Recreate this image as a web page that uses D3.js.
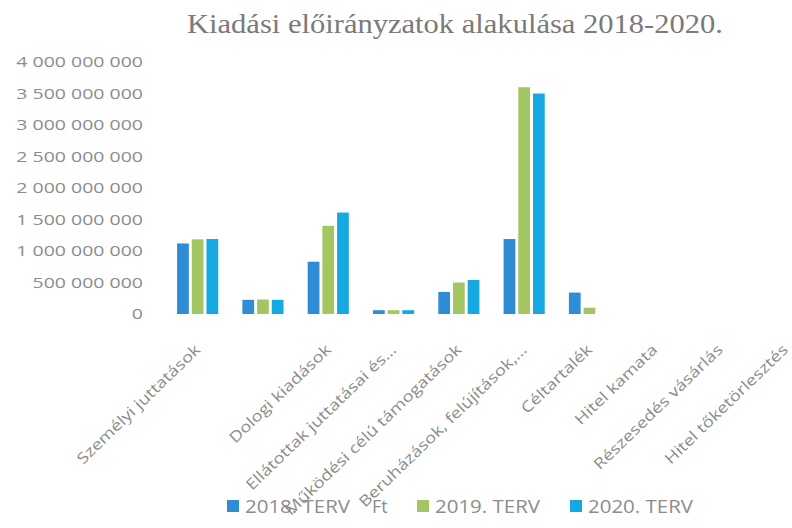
<!DOCTYPE html>
<html>
<head>
<meta charset="utf-8">
<script src="https://cdn.jsdelivr.net/npm/d3@7"></script>
<style>
  html, body { margin: 0; padding: 0; background: #fff; }
  svg { display: block; }
</style>
</head>
<body>
<svg id="chart" width="792" height="528"></svg>
<script>
const title = "Kiadási előirányzatok alakulása 2018-2020.";
const categories = [
  "Személyi juttatások",
  "Munkaadókat terhelő járulékok",
  "Dologi kiadások",
  "Ellátottak juttatásai és…",
  "Működési célú támogatások",
  "Beruházások, felújítások,…",
  "Céltartalék",
  "Hitel kamata",
  "Részesedés vásárlás",
  "Hitel  tőketörlesztés"
];
// label shown under each category (second one has no visible label in the reference)
const tickLabels = [
  "Személyi juttatások",
  "",
  "Dologi kiadások",
  "Ellátottak juttatásai és…",
  "Működési célú támogatások",
  "Beruházások, felújítások,…",
  "Céltartalék",
  "Hitel kamata",
  "Részesedés vásárlás",
  "Hitel  tőketörlesztés"
];
const seriesNames = ["2018. TERV", "2019. TERV", "2020. TERV"];
const values2018 = [1120000000, 225000000, 830000000, 60000000, 350000000, 1190000000, 340000000, 0, 0, 0];
const values2019 = [1185000000, 230000000, 1400000000, 60000000, 500000000, 3600000000, 100000000, 0, 0, 0];
const values2020 = [1190000000, 225000000, 1610000000, 60000000, 540000000, 3500000000, 0, 0, 0, 0];
const yTicks = [0, 500000000, 1000000000, 1500000000, 2000000000, 2500000000, 3000000000, 3500000000, 4000000000];
const unitLabel = "Ft";
const colors = ["#2f8dd6", "#a3c663", "#16a8e0"];

const series = [values2018, values2019, values2020];
const svg = d3.select("#chart");
const FONT = "'Open Sans', 'DejaVu Sans', sans-serif";

function stretch(sel, k) {
  sel.each(function () {
    const w = this.getComputedTextLength();
    if (w > 0) {
      this.setAttribute("textLength", w * k);
      this.setAttribute("lengthAdjust", "spacingAndGlyphs");
    }
  });
}

const x0 = d3.scaleBand().domain(categories).range([165, 818]).paddingInner(0.37).paddingOuter(0.185);
const x1 = d3.scaleBand().domain(d3.range(3)).range([0, x0.bandwidth()]).paddingInner(0.2);
const y = d3.scaleLinear().domain([0, 4000000000]).range([314, 62]);

// title
svg.append("text")
  .attr("x", 187).attr("y", 33)
  .attr("font-family", "'Liberation Serif', 'Times New Roman', serif")
  .attr("font-size", 28)
  .attr("fill", "#7a7a7a")
  .attr("textLength", 536)
  .attr("lengthAdjust", "spacingAndGlyphs")
  .text(title);

// y axis labels
const fmt = v => d3.format(",")(v).replace(/,/g, " ");
const yAxis = svg.append("g")
  .attr("transform", "translate(143,0)")
  .call(d3.axisLeft(y).tickValues(yTicks).tickSize(0).tickPadding(0).tickFormat(fmt));
yAxis.select(".domain").remove();
yAxis.selectAll("text")
  .attr("font-family", FONT).attr("font-size", 15).attr("fill", "#8c8c8c")
  .call(stretch, 1.3);

// bars
const groups = svg.append("g").selectAll("g")
  .data(categories).join("g")
  .attr("transform", d => `translate(${x0(d)},0)`);
groups.selectAll("rect")
  .data((d, i) => series.map((s, j) => ({ j, v: s[i] })))
  .join("rect")
  .attr("x", d => x1(d.j))
  .attr("width", x1.bandwidth())
  .attr("y", d => y(d.v))
  .attr("height", d => y(0) - y(d.v))
  .attr("fill", d => colors[d.j]);

// x labels
const xAxis = svg.append("g")
  .attr("transform", "translate(0,347)")
  .call(d3.axisBottom(x0).tickSize(0).tickPadding(0).tickFormat((d, i) => tickLabels[i]));
xAxis.select(".domain").remove();
xAxis.selectAll("text")
  .attr("font-family", FONT).attr("font-size", 15).attr("fill", "#8c8c8c")
  .attr("text-anchor", "end")
  .attr("x", 0).attr("y", 0).attr("dy", "0.35em")
  .attr("transform", "rotate(-44)")
  .call(stretch, 1.22);

// legend
const legendX = [227, 417, 570];
const lg = svg.append("g");
seriesNames.forEach((name, i) => {
  lg.append("rect").attr("x", legendX[i]).attr("y", 500).attr("width", 12).attr("height", 12).attr("fill", colors[i]);
  lg.append("text").attr("x", legendX[i] + 18).attr("y", 513)
    .attr("font-family", FONT).attr("font-size", 18).attr("fill", "#8c8c8c")
    .attr("textLength", 105).attr("lengthAdjust", "spacingAndGlyphs")
    .text(name);
});
svg.append("text").attr("x", 372).attr("y", 513)
  .attr("font-family", FONT).attr("font-size", 18).attr("fill", "#8c8c8c")
  .text(unitLabel);
</script>
</body>
</html>
